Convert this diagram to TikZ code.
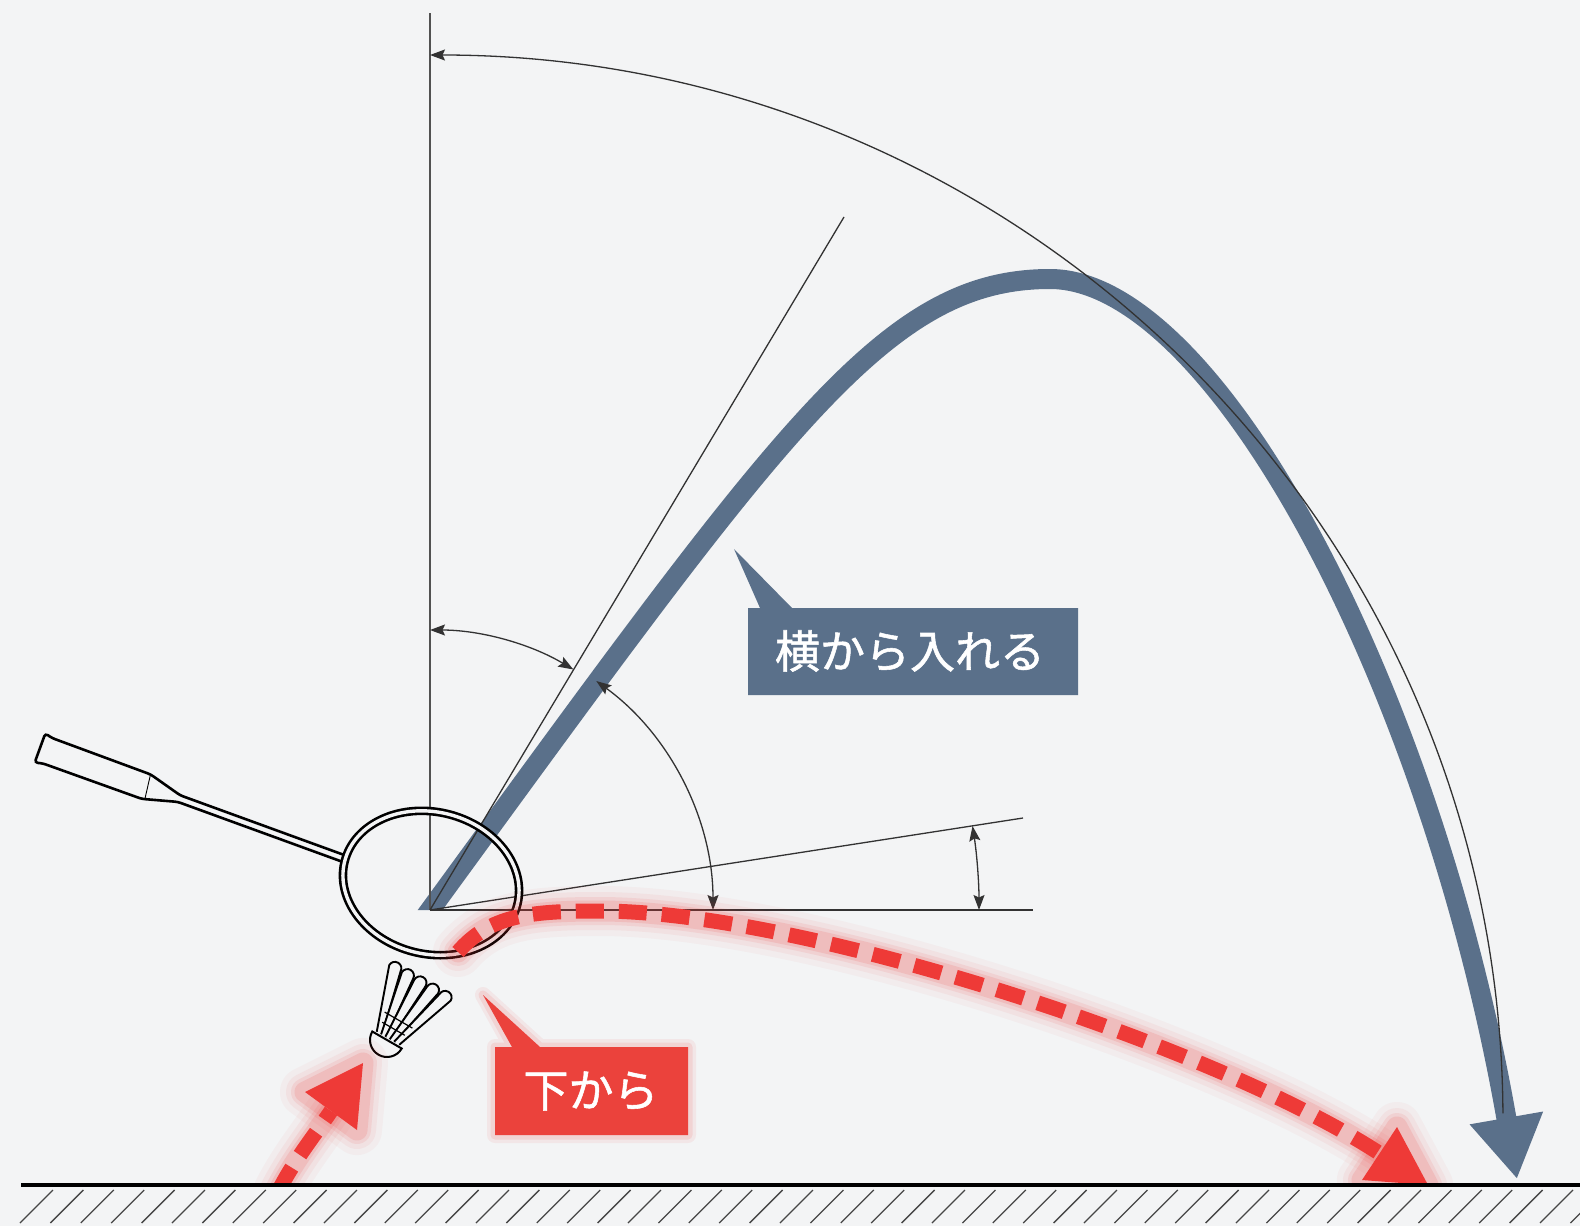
\documentclass[tikz,border=0pt]{standalone}
\usepackage{fontspec}
\newfontfamily\jpfont[FakeBold=1.2]{Noto Sans CJK JP}
\usetikzlibrary{arrows.meta}
\definecolor{paper}{RGB}{243,244,245}
\definecolor{slate}{RGB}{90,112,138}
\definecolor{tagred}{RGB}{235,66,60}
\definecolor{dashred}{RGB}{238,58,55}
\definecolor{ink}{RGB}{50,50,50}
\definecolor{hatchgray}{RGB}{70,70,70}

\begin{document}
\begin{tikzpicture}[x=1pt,y=-1pt,
  >={Stealth[length=15pt,width=11pt,inset=2.5pt]},
  guide/.style={draw=ink,line width=1.3pt},
  dimarc/.style={draw=ink,line width=1.3pt,<->},
  flight/.style={draw=slate,line width=20pt},
  reddash/.style={draw=dashred,line width=15pt,dash pattern=on 28pt off 15pt},
  redhalo/.style={draw=dashred,line cap=round,line join=round},
  tag/.style={text=white,font=\jpfont\fontsize{45}{52}\selectfont,inner sep=0pt},
  frame/.style={draw=black,line width=2.6pt,fill=paper},
  hatch/.style={draw=hatchgray,line width=1.3pt},
]
% paper
\fill[paper] (0,0) rectangle (1580,1226);
\useasboundingbox (0,0) rectangle (1580,1226);

% reference points
\coordinate (O) at (430,910);
\coordinate (C) at (430,1119);
\coordinate (vtop) at (430,13);
\coordinate (steep) at (844,217);
\coordinate (flat) at (1023,818);
\coordinate (horiz) at (1033,910);
\coordinate (peak) at (1050,279);
\coordinate (landing) at (1517,1179);

% high flight path (clipped flat at the striking point)
\begin{scope}
  \clip (0,0) -- (1580,0) -- (1580,1226) -- (1200,1226) -- (1200,910) -- (0,910) -- cycle;
  \draw[flight,-{Triangle[length=62pt,width=70pt]}]
    (425,917) .. controls (784,425) and (885,279) .. (peak)
    .. controls (1215,279) and (1431,686) .. (landing);
\end{scope}

% construction lines
\draw[draw=ink!85,line width=1.8pt] (vtop) -- (O);
\draw[guide] (O) -- (steep);
\draw[guide] (O) -- (flat);
\draw[guide] (O) -- (horiz);

% angle markers
\draw[dimarc] ([shift={(-90:280)}]O) arc[start angle=-90,end angle=-59.2,radius=280];
\draw[dimarc] ([shift={(-54:283)}]O) arc[start angle=-54,end angle=0,radius=283];
\draw[dimarc] ([shift={(0:549)}]O) arc[start angle=0,end angle=-8.8,radius=549];

% large reach arc
\draw[guide,<-] ([shift={(0,-1064)}]C) arc[start angle=-90,end angle=-0.3,x radius=1073,y radius=1064];

% racket
\begin{scope}[shift={(40,748)},rotate=-20]
  \path[frame,rounded corners=3pt]
    (0,-15.5) -- (8,-13.5) -- (113,-13) -- (148,-3.5) -- (325,-3.5)
    -- (325,3.5) -- (148,3.5) -- (113,13) -- (8,13.5) -- (0,15.5) -- cycle;
  \draw[line width=0.9pt] (113,-12) -- (116,12);
\end{scope}
\draw[line width=2.6pt,double=paper,double distance=3.4pt,rotate around={-14:(431,883)}]
  (431,883) ellipse[x radius=89,y radius=71];

% shuttlecock
\begin{scope}[shift={(387,1040)},rotate=-30]
  \foreach \i in {0,...,4} {
    \pgfmathsetmacro\xt{-29+14.5*\i}
    \pgfmathsetmacro\xb{-10+5*\i}
    \filldraw[fill=paper,draw=black,line width=1.9pt]
      (\xb-3,-2) -- (\xt-6.5,-66) arc[start angle=180,end angle=360,radius=6.5] -- (\xb+3,-2);
  }
  \draw[line width=1.2pt] (-13,-13) -- (13,-13);
  \draw[line width=1.2pt] (-16,-23) -- (16,-23);
  \filldraw[fill=paper,draw=black,line width=2pt]
    (-17,0) arc[start angle=180,end angle=0,radius=17] -- cycle;
\end{scope}

% low flight paths with red glow
\def\mainred{(458,952) .. controls (490,915) and (530,911) .. (600,911) .. controls (800,911) and (1211,1044) .. (1379,1153)}
\def\lowred{(278,1192) .. controls (293,1162) and (314,1136) .. (331,1111)}
\coordinate (rt1) at (1428,1185);
\coordinate (ra1) at (1362,1180);
\coordinate (rb1) at (1397,1127);
\coordinate (rt2) at (363,1063);
\coordinate (ra2) at (305,1092);
\coordinate (rb2) at (357,1130);
\begin{scope}
  \clip (0,0) rectangle (1580,1183);
  \foreach \w/\o in {50/0.04,38/0.06,28/0.09,21/0.13} {
    \draw[redhalo,line width=\w pt,opacity=\o] \mainred;
    \draw[redhalo,line width=\w pt,opacity=\o] \lowred;
    \draw[redhalo,line width=\w pt,opacity=\o] (rt1) -- (ra1) -- (rb1) -- cycle;
    \draw[redhalo,line width=\w pt,opacity=\o] (rt2) -- (ra2) -- (rb2) -- cycle;
  }
  \draw[reddash] \mainred;
  \draw[reddash] \lowred;
  \fill[dashred] (rt1) -- (ra1) -- (rb1) -- cycle;
  \fill[dashred] (rt2) -- (ra2) -- (rb2) -- cycle;
\end{scope}

% callouts
\fill[slate] (748,608) -- (760,608) -- (734,549) -- (792,608) -- (1078,608)
  -- (1078,695) -- (748,695) -- cycle;
\node[tag] (sidelbl) at (910,651) {横から入れる};

\foreach \w/\o in {16/0.07,9/0.11} {
  \draw[redhalo,line width=\w pt,opacity=\o] (495,1047) -- (512,1047) -- (483,995) -- (540,1047)
    -- (688,1047) -- (688,1135) -- (495,1135) -- cycle;
}
\fill[tagred] (495,1047) -- (512,1047) -- (483,995) -- (540,1047) -- (688,1047)
  -- (688,1135) -- (495,1135) -- cycle;
\node[tag] (underlbl) at (591,1091) {下から};

% ground
\begin{scope}
  \clip (0,1186) rectangle (1580,1226);
  \foreach \i in {0,...,51} \draw[hatch] ({53+30.4*\i},1190) -- ++(-33,33);
\end{scope}
\draw[line width=4pt] (21,1185) -- (1580,1185);
\end{tikzpicture}
\end{document}
